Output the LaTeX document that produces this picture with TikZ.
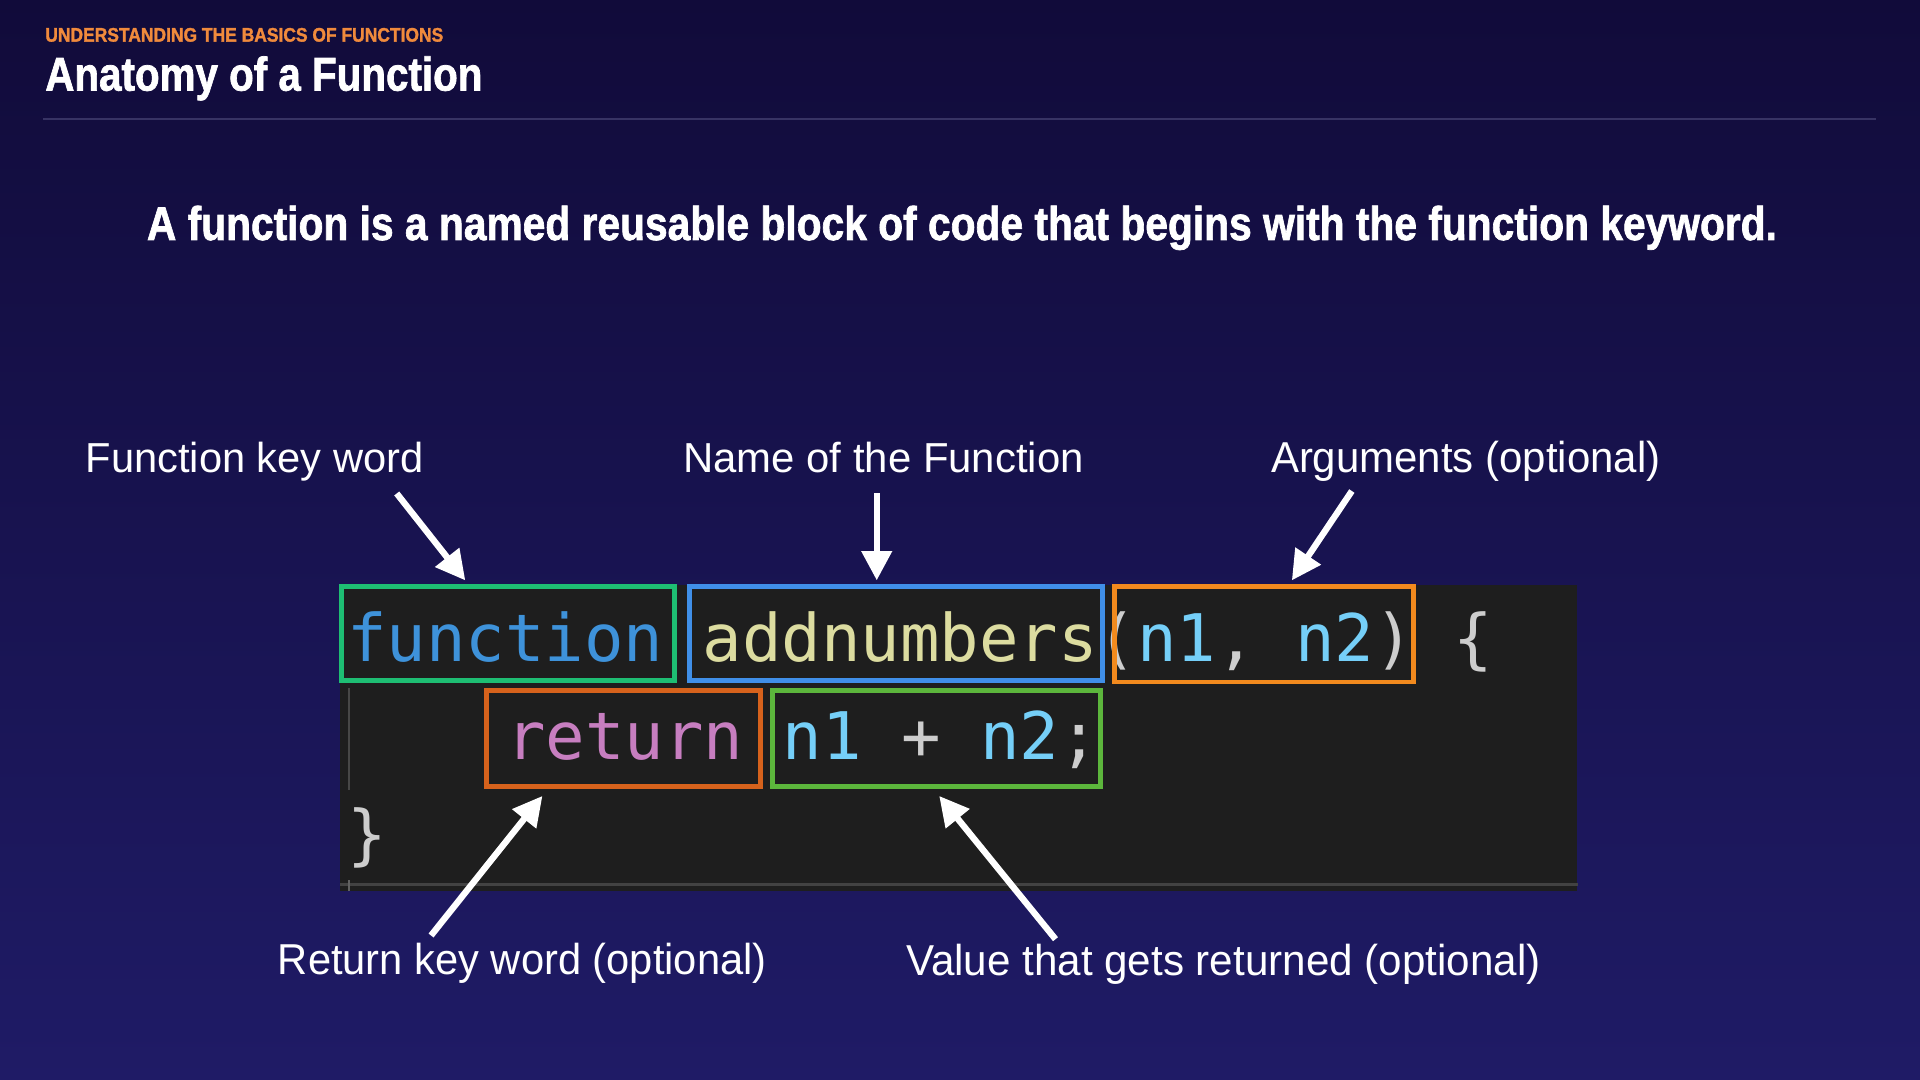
\documentclass[tikz,border=0pt]{standalone}
\usepackage{fontspec}
\setmainfont{Liberation Sans}
\newfontfamily\headfont{Liberation Sans}[BoldFeatures={FakeBold=1.6}]
\newfontfamily\codefont{DejaVu Sans Mono}
\usetikzlibrary{arrows.meta,calc}
\definecolor{bgtop}{RGB}{17,11,58}
\definecolor{bgbot}{RGB}{31,27,102}
\definecolor{capor}{RGB}{240,138,60}
\definecolor{rulec}{RGB}{55,51,100}
\definecolor{codebgc}{RGB}{30,30,30}
\definecolor{kwblue}{RGB}{62,146,218}
\definecolor{fnyel}{RGB}{220,220,160}
\definecolor{parcy}{RGB}{117,207,248}
\definecolor{punct}{RGB}{205,205,205}
\definecolor{retpk}{RGB}{199,126,192}
\definecolor{bxgreen}{RGB}{30,190,115}
\definecolor{bxblue}{RGB}{64,143,232}
\definecolor{bxorange}{RGB}{242,138,30}
\definecolor{bxred}{RGB}{214,98,28}
\definecolor{bxlime}{RGB}{92,182,60}
\newcommand{\fitt}[3]{\resizebox{#1}{#2}{#3}}
\begin{document}
\begin{tikzpicture}[x=0.5pt,y=-0.5pt,
  txt/.style={anchor=base west,inner sep=0pt,outer sep=0pt,text=white},
  codeline/.style={anchor=base west,inner sep=0pt,font=\codefont\fontsize{26.8pt}{30pt}\selectfont},
  hbox/.style={draw=#1,line width=2pt,inner sep=0pt,rectangle},
  arr/.style={draw=white,line width=2.6pt,-{Triangle[length=12pt,width=12pt]}}]
\shade[top color=bgtop,bottom color=bgbot] (0,0) rectangle (1568,882);
\useasboundingbox (0,0) rectangle (1568,882);
% header
\node[txt,text=capor] (cap) at (37,34) {\fitt{162.5pt}{5.6pt}{\headfont\bfseries UNDERSTANDING THE BASICS OF FUNCTIONS}};
\node[txt] (title) at (37,74) {\fitt{178.5pt}{14pt}{\headfont\bfseries Anatomy of a Function}};
\draw[rulec,line width=1pt] (35,97) -- (1532,97);
\node[txt] (sub) at (120,196) {\fitt{665.5pt}{14pt}{\headfont\bfseries A function is a named reusable block of code that begins with the function keyword.}};
% labels
\node[txt] (l1) at (70,386) {\fitt{138pt}{12.4pt}{Function key word}};
\node[txt] (l2) at (558,386) {\fitt{163.5pt}{12.4pt}{Name of the Function}};
\node[txt] (l3) at (1038,386) {\fitt{159pt}{12.8pt}{Arguments (optional)}};
\node[txt] (l4) at (227,796) {\fitt{199.5pt}{12.8pt}{Return key word (optional)}};
\node[txt] (l5) at (740,797) {\fitt{259pt}{12.8pt}{Value that gets returned (optional)}};
% code block
\node[fill=codebgc,inner sep=0pt,minimum width=505pt,minimum height=125pt] (code) at (783,603) {};
\draw[draw=white!16!codebgc,line width=1pt] ($(code.south west)+(0,-6)$) -- ($(code.south east)+(0,-6)$);
\draw[draw=white!18!codebgc,line width=0.8pt] (285,562) -- (285,645);
\draw[draw=white!30!codebgc,line width=0.8pt] (285,719) -- (285,728);
\node[codeline] (c1) at (283,540) {\textcolor{kwblue}{function} \textcolor{fnyel}{addnumbers}\textcolor{punct}{(}\textcolor{parcy}{n1}\textcolor{punct}{,} \textcolor{parcy}{n2}\textcolor{punct}{)} \textcolor{punct}{\{}};
\node[codeline] (c2) at (413,620) {\textcolor{retpk}{return} \textcolor{parcy}{n1} \textcolor{punct}{+} \textcolor{parcy}{n2}\textcolor{punct}{;}};
\node[codeline] (c3) at (283,700) {\textcolor{punct}{\}}};
% highlight boxes
\node[hbox=bxgreen,minimum width=136pt,minimum height=38.5pt] (b1) at (415,517.5) {};
\node[hbox=bxblue,minimum width=168.5pt,minimum height=38.5pt] (b2) at (731.5,517.5) {};
\node[hbox=bxorange,minimum width=122pt,minimum height=39pt] (b3) at (1032,518) {};
\node[hbox=bxred,minimum width=112pt,minimum height=39pt] (b4) at (509,603) {};
\node[hbox=bxlime,minimum width=134pt,minimum height=39pt] (b5) at (765,603) {};
% arrows
\coordinate (s1) at (324,403);
\coordinate (s2) at (716,403);
\coordinate (s3) at (1104,401);
\coordinate (s4) at (352,764);
\coordinate (s5) at (862,767);
\draw[arr] (s1) -- ($(b1.north)+(-35,-3)$);
\draw[arr] (s2) -- ($(b2.north)+(-15.5,-3)$);
\draw[arr] (s3) -- ($(b3.north)+(23,-3)$);
\draw[arr] (s4) -- ($(b4.south)+(-66,6)$);
\draw[arr] (s5) -- ($(b5.south)+(2,6)$);
\end{tikzpicture}
\end{document}
